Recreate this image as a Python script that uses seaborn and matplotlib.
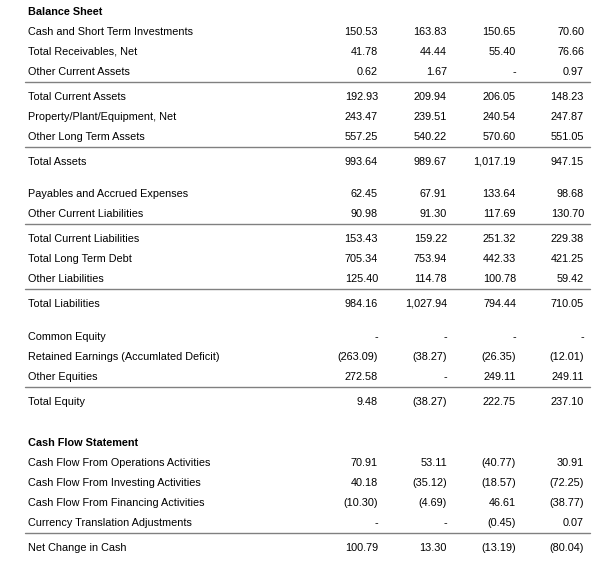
import numpy as np
import matplotlib
matplotlib.use('Agg')
import matplotlib.pyplot as plt
import seaborn as sns

# 表格数据 (nan 显示为 "-")
nan = np.nan
labels = [
    'Balance Sheet',
    'Cash and Short Term Investments', 'Total Receivables, Net', 'Other Current Assets',
    'Total Current Assets', 'Property/Plant/Equipment, Net', 'Other Long Term Assets',
    'Total Assets',
    'Payables and Accrued Expenses', 'Other Current Liabilities',
    'Total Current Liabilities', 'Total Long Term Debt', 'Other Liabilities',
    'Total Liabilities',
    'Common Equity', 'Retained Earnings (Accumlated Deficit)', 'Other Equities',
    'Total Equity',
    'Cash Flow Statement',
    'Cash Flow From Operations Activities', 'Cash Flow From Investing Activities',
    'Cash Flow From Financing Activities', 'Currency Translation Adjustments',
    'Net Change in Cash',
]
col1 = [None, 150.53, 41.78, 0.62, 192.93, 243.47, 557.25, 993.64, 62.45, 90.98, 153.43, 705.34, 125.40,
        984.16, nan, -263.09, 272.58, 9.48, None, 70.91, 40.18, -10.30, nan, 100.79]
col2 = [None, 163.83, 44.44, 1.67, 209.94, 239.51, 540.22, 989.67, 67.91, 91.30, 159.22, 753.94, 114.78,
        1027.94, nan, -38.27, nan, -38.27, None, 53.11, -35.12, -4.69, nan, 13.30]
col3 = [None, 150.65, 55.40, nan, 206.05, 240.54, 570.60, 1017.19, 133.64, 117.69, 251.32, 442.33, 100.78,
        794.44, nan, -26.35, 249.11, 222.75, None, -40.77, -18.57, 46.61, -0.45, -13.19]
col4 = [None, 70.60, 76.66, 0.97, 148.23, 247.87, 551.05, 947.15, 98.68, 130.70, 229.38, 421.25, 59.42,
        710.05, nan, -12.01, 249.11, 237.10, None, 30.91, -72.25, -38.77, 0.07, -80.04]
columns = [col1, col2, col3, col4]

# 分隔线出现在这些行之前; 空行出现在这些行之前
line_before = {'Total Current Assets', 'Total Assets', 'Total Current Liabilities', 'Total Liabilities',
               'Total Equity', 'Net Change in Cash'}
gap_before = {'Payables and Accrued Expenses': 12, 'Common Equity': 13, 'Cash Flow Statement': 21}
headers = {'Balance Sheet', 'Cash Flow Statement'}


def fmt(v):
    if v is None:
        return ''
    if np.isnan(v):
        return '-'
    s = f'{abs(v):,.2f}'
    return f'({s})' if v < 0 else s


sns.set_style('white')
plt.rcParams['font.family'] = ['Liberation Sans', 'DejaVu Sans']

fig = plt.figure(figsize=(6.11, 5.65), dpi=100)
ax = fig.add_axes([0, 0, 1, 1])
ax.set_xlim(0, 611)
ax.set_ylim(565, 0)
ax.axis('off')

col_x = [378, 447, 516, 584]
y = 11
for i, lab in enumerate(labels):
    if i > 0:
        y += 20
    if lab in gap_before:
        y += gap_before[lab]
    if lab in line_before:
        ax.plot([25, 590], [y - 9, y - 9], color='#808080', lw=1)
        y += 5
    bold = lab in headers
    ax.text(28, y, lab, fontsize=7.8, va='center_baseline', ha='left',
            fontweight='bold' if bold else 'normal', color='black')
    for cx, col in zip(col_x, columns):
        ax.text(cx, y, fmt(col[i]), fontsize=7.8, va='center_baseline', ha='right', color='black')

fig.savefig('out.png', dpi=100)
